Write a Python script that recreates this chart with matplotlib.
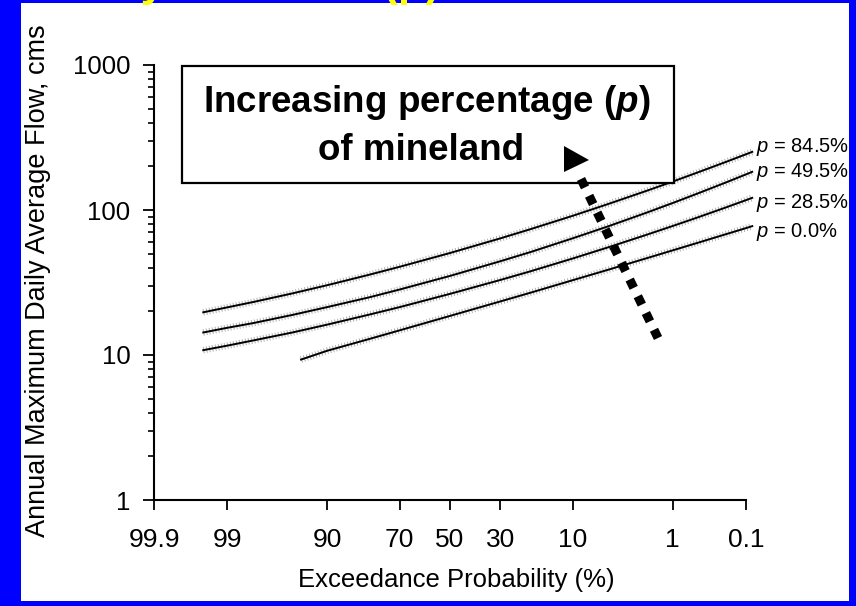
from statistics import NormalDist

import matplotlib.pyplot as plt
from matplotlib.lines import Line2D
from matplotlib.patches import Polygon, Rectangle
from matplotlib.ticker import LogLocator, NullFormatter

plt.rcParams["font.family"] = ["Liberation Sans", "DejaVu Sans"]
plt.rcParams["mathtext.fontset"] = "custom"
plt.rcParams["mathtext.rm"] = "Liberation Sans"
plt.rcParams["mathtext.it"] = "Liberation Sans:italic"
plt.rcParams["mathtext.bf"] = "Liberation Sans:bold:italic"
plt.rcParams["lines.scale_dashes"] = False

# Exceedance probability (%) of each fitted point
prob = [99.5, 99, 98, 95, 90, 80, 70, 50, 30, 20, 10, 5, 2, 1, 0.5, 0.2, 0.1, 0.08]
prob_p00 = [94, 90, 80, 70, 50, 30, 20, 10, 5, 2, 1, 0.5, 0.2, 0.1, 0.08]

# Annual maximum daily average flow (cms) for each mineland percentage
flow_p845 = [19.7, 21.3, 23.2, 26.6, 30.3, 35.8, 40.6, 50.5, 63.7, 73.8,
             91.2, 109.6, 135.7, 157.1, 180.5, 214.2, 242.2, 251.8]
flow_p495 = [14.3, 15.4, 16.6, 18.9, 21.4, 25.0, 28.3, 35.1, 44.3, 51.3,
             63.8, 76.9, 95.9, 111.8, 129.2, 154.6, 176.0, 183.4]
flow_p285 = [10.8, 11.6, 12.6, 14.3, 16.2, 19.0, 21.4, 26.4, 32.9, 37.8,
             46.3, 55.1, 67.5, 77.6, 88.4, 104.0, 116.9, 121.3]
flow_p00 = [9.3, 10.7, 12.9, 14.8, 18.6, 23.4, 26.9, 32.8, 38.6, 46.5,
            52.7, 59.1, 68.0, 75.0, 77.4]
curve_labels = ["84.5%", "49.5%", "28.5%", "0.0%"]

xtick_probs = [99.9, 99, 90, 70, 50, 30, 10, 1, 0.1]
xtick_labels = ["99.9", "99", "90", "70", "50", "30", "10", "1", "0.1"]
ytick_vals = [1, 10, 100, 1000]
ytick_labels = ["1", "10", "100", "1000"]

W, H = 856, 606


def fx(px):
    return px / W


def fy(py):
    return 1 - py / H


norm = NormalDist()


def zpos(p):
    # normal probability scale: 99.9 on the left, 0.1 on the right
    return [norm.inv_cdf(1 - v / 100) for v in p]


fig = plt.figure(figsize=(W / 100, H / 100), dpi=100, facecolor="#0000ff")

# white slide panel
fig.add_artist(Rectangle((fx(21), fy(601)), fx(849) - fx(21), fy(3) - fy(601),
                         transform=fig.transFigure, facecolor="white",
                         edgecolor="none", zorder=-1))

# slide title, mostly above the visible area
fig.text(fx(440), fy(-4), "Flood Flows by Mineland (p)", ha="right",
         va="baseline", color="yellow", fontsize=32, fontweight="bold")

zmin = norm.inv_cdf(0.001)
zmax = norm.inv_cdf(0.999)
ax = fig.add_axes([fx(154), fy(500), fx(755.5) - fx(154), fy(65) - fy(500)])
ax.set_facecolor("none")
ax.set_yscale("log")
ax.set_ylim(1, 1000)
ax.set_xlim(zmin, 3.19)

for s in ["top", "right"]:
    ax.spines[s].set_visible(False)
ax.spines["bottom"].set_bounds(zmin, zmax)
ax.spines["left"].set_linewidth(1.5)
ax.spines["bottom"].set_linewidth(1.5)

ax.set_xticks(zpos(xtick_probs), xtick_labels)
ax.set_yticks(ytick_vals, ytick_labels)
ax.yaxis.set_minor_locator(LogLocator(base=10, subs=range(2, 10)))
ax.yaxis.set_minor_formatter(NullFormatter())
ax.tick_params(axis="x", direction="out", length=7, width=1.3, pad=13,
               labelsize=19)
ax.tick_params(axis="y", which="major", direction="out", length=8, width=1.3,
               pad=9, labelsize=18.5)
ax.tick_params(axis="y", which="minor", direction="out", length=4.5, width=1.2)

series = [
    (prob, flow_p845),
    (prob, flow_p495),
    (prob, flow_p285),
    (prob_p00, flow_p00),
]
label_dy = [3.5, 0, -3.5, -4]

for (p, q), lab, dy in zip(series, curve_labels, label_dy):
    z = zpos(p)
    # grey dotted confidence fuzz under the fitted line
    ax.plot(z, q, color="#8c8c8c", lw=4.8, dashes=(0.6, 1.6),
            dash_capstyle="butt", alpha=0.8, clip_on=False, zorder=2)
    ax.plot(z, q, color="black", lw=1.4, clip_on=False, zorder=3)
    ax.annotate(f"$p$ = {lab}", xy=(z[-1], q[-1]), xytext=(3, dy),
                textcoords="offset points", ha="left", va="center",
                fontsize=14.5, annotation_clip=False)

fig.text(fx(38), fy(281), "Annual Maximum Daily Average Flow, cms",
         rotation=90, ha="center", va="center", fontsize=19.5)
fig.text(fx(456), fy(580), "Exceedance Probability (%)", ha="center",
         va="center", fontsize=18.5)

# callout box
fig.add_artist(Rectangle((fx(182), fy(183)), fx(674) - fx(182), fy(66) - fy(183),
                         transform=fig.transFigure, facecolor="white",
                         edgecolor="black", lw=1.6, zorder=4))
fig.text(fx(427), fy(112), r"Increasing percentage ($\mathbf{p}$)",
         ha="center", va="baseline", fontsize=26.5, fontweight="bold", zorder=5)
fig.text(fx(421.5), fy(160), "of mineland", ha="center", va="baseline",
         fontsize=26.5, fontweight="bold", zorder=5)

# dotted arrow pointing into the box
fig.add_artist(Line2D([fx(581), fx(658)], [fy(179), fy(338)],
                      transform=fig.transFigure, color="black", lw=6.5,
                      dashes=(6.7, 6.7), dash_capstyle="butt", zorder=6))
fig.add_artist(Polygon([[fx(564), fy(146)], [fx(564), fy(172)], [fx(589), fy(160)]],
                       closed=True, transform=fig.transFigure,
                       facecolor="black", edgecolor="none", zorder=6))

fig.savefig("out.png", dpi=100, facecolor=fig.get_facecolor())
